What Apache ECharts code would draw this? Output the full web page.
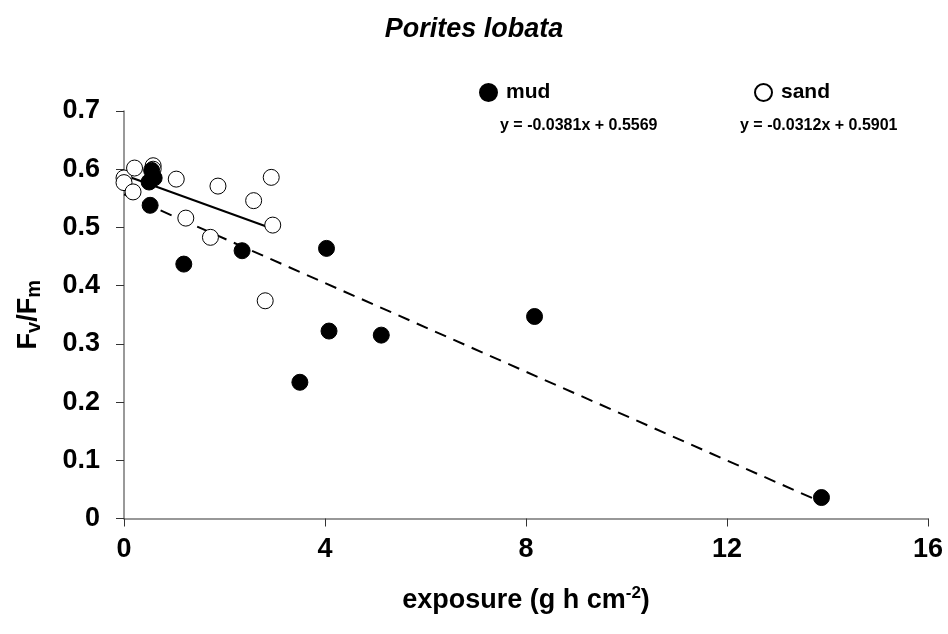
<!DOCTYPE html>
<html>
<head>
<meta charset="utf-8">
<script src="https://cdn.jsdelivr.net/npm/echarts@6/dist/echarts.min.js"></script>
<style>html,body{margin:0;padding:0;background:#fff;}#c{width:948px;height:634px;}</style>
</head>
<body>
<div id="c"></div>
<script>
var titleText = 'Porites lobata';
var mudPoints = [[0.5,0.578],[0.6,0.585],[0.55,0.598],[0.52,0.538],[1.19,0.437],[2.35,0.460],[4.03,0.464],[4.08,0.322],[5.12,0.315],[3.50,0.234],[8.17,0.347],[13.88,0.036]];
var sandPoints = [[0.0,0.585],[0.0,0.577],[0.21,0.602],[0.58,0.606],[0.58,0.600],[0.18,0.561],[1.04,0.583],[1.87,0.571],[2.93,0.586],[2.58,0.546],[2.96,0.504],[1.23,0.516],[1.72,0.483],[2.81,0.374]];
var mudTrend = [[0,0.5569],[13.88,0.0281]];
var sandTrend = [[0,0.5901],[2.93,0.4987]];
var mudEquation = 'y = -0.0381x + 0.5569';
var sandEquation = 'y = -0.0312x + 0.5901';
var xTicks = [0,4,8,12,16];
var yTicks = [0,0.1,0.2,0.3,0.4,0.5,0.6,0.7];

var chart = echarts.init(document.getElementById('c'));
var font = 'Liberation Sans, Arial, sans-serif';
chart.setOption({
  animation:false,
  backgroundColor:'#fff',
  title:{text:titleText,left:'center',top:11,textStyle:{fontFamily:font,fontSize:27,fontWeight:'bold',fontStyle:'italic',color:'#000'}},
  legend:[
    {data:['mud'],left:474,top:77,icon:'circle',itemWidth:17,itemHeight:17,itemGap:4,textStyle:{fontFamily:font,fontSize:21,fontWeight:'bold',color:'#000',padding:[0,0,0,4]}},
    {data:['sand'],left:749,top:77,icon:'circle',itemWidth:17,itemHeight:17,itemGap:4,textStyle:{fontFamily:font,fontSize:21,fontWeight:'bold',color:'#000',padding:[0,0,0,4]}}
  ],
  graphic:[
    {type:'text',left:500,top:118,style:{text:mudEquation,font:'bold 16px '+font,fill:'#000'}},
    {type:'text',left:740,top:118,style:{text:sandEquation,font:'bold 16px '+font,fill:'#000'}}
  ],
  grid:{left:124,right:20,top:111,bottom:115.5,containLabel:false},
  xAxis:{type:'value',min:xTicks[0],max:xTicks[xTicks.length-1],interval:4,
    axisLine:{show:true,onZero:false,lineStyle:{color:'#777',width:1.5}},
    axisTick:{show:true,length:8,lineStyle:{color:'#333'}},
    splitLine:{show:false},
    axisLabel:{margin:18,fontFamily:font,fontSize:27,fontWeight:'bold',color:'#000'},
    name:'{b|exposure (g h cm}{s|-2}{b|)}',nameLocation:'middle',nameGap:66,
    nameTextStyle:{rich:{b:{fontFamily:font,fontSize:27,fontWeight:'bold',color:'#000'},s:{fontFamily:font,fontSize:17,fontWeight:'bold',color:'#000',padding:[0,0,16,0]}}}
  },
  yAxis:{type:'value',min:yTicks[0],max:yTicks[yTicks.length-1],interval:0.1,
    axisLine:{show:true,onZero:false,lineStyle:{color:'#777',width:1.5}},
    axisTick:{show:true,length:8,lineStyle:{color:'#333'}},
    splitLine:{show:false},
    axisLabel:{margin:24,fontFamily:font,fontSize:27,fontWeight:'bold',color:'#000',formatter:function(v){return v===0?'0':v.toFixed(1);}},
    name:'{b|F}{s|v}{b|/F}{s|m}',nameLocation:'middle',nameGap:80,nameRotate:90,
    nameTextStyle:{rich:{b:{fontFamily:font,fontSize:27,fontWeight:'bold',color:'#000'},s:{fontFamily:font,fontSize:20,fontWeight:'bold',color:'#000',padding:[10,0,0,0]}}}
  },
  series:[
    {name:'mud-trend',type:'line',data:mudTrend,symbol:'none',lineStyle:{color:'#000',width:2,type:[12,8]},z:1,silent:true},
    {name:'sand-trend',type:'line',data:sandTrend,symbol:'none',lineStyle:{color:'#000',width:2},z:1,silent:true},
    {name:'sand',type:'scatter',data:sandPoints,symbol:'circle',symbolSize:16,itemStyle:{color:'#fff',borderColor:'#000',borderWidth:1,opacity:1},z:3},
    {name:'mud',type:'scatter',data:mudPoints,symbol:'circle',symbolSize:16,itemStyle:{color:'#000',borderColor:'#000',borderWidth:1,opacity:1},z:4}
  ]
});
</script>
</body>
</html>
